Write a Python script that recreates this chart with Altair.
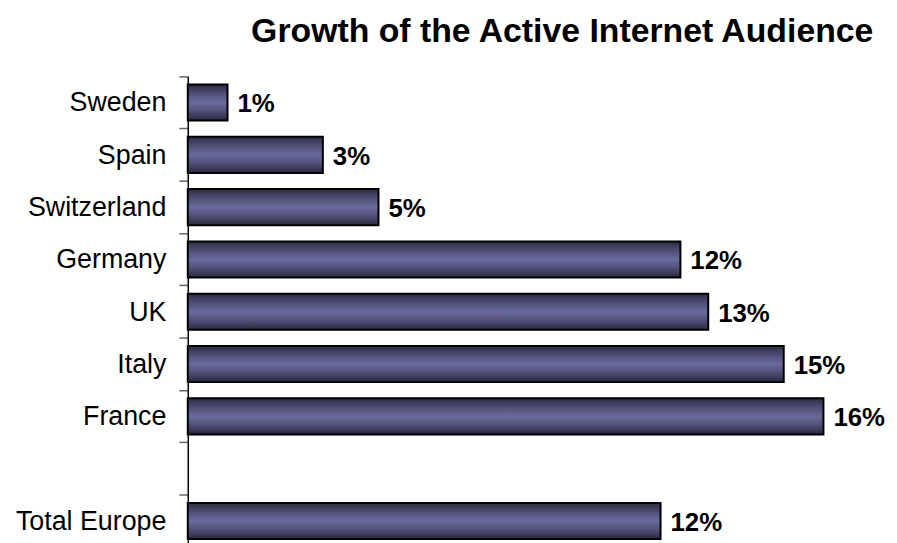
import altair as alt
import pandas as pd

categories = ["Sweden", "Spain", "Switzerland", "Germany", "UK", "Italy", "France", " ", "Total Europe"]
values = [0.010, 0.034, 0.048, 0.124, 0.131, 0.150, 0.160, None, 0.119]
title_text = "Growth of the Active Internet Audience"

df = pd.DataFrame({"country": categories, "growth": values})
bars_df = df.dropna()

FONT = "Liberation Sans"

y_scale = alt.Scale(domain=categories, paddingInner=0, paddingOuter=0)
x_scale = alt.Scale(domain=[0, 0.17], nice=False, zero=True)

y_enc = alt.Y(
    "country:N",
    sort=categories,
    scale=y_scale,
    axis=alt.Axis(
        title=None,
        bandPosition=0,
        labelFont=FONT,
        labelFontSize=27,
        labelColor="black",
        labelPadding=13,
        labelBaseline="alphabetic",
        labelOffset=9,
        tickSize=9,
        tickColor="#666666",
        tickWidth=1.5,
        domainColor="black",
        domainWidth=1.5,
        grid=False,
    ),
)

x_enc = alt.X("growth:Q", scale=x_scale, axis=None)

gradient = alt.Gradient(
    gradient="linear",
    x1=0, x2=0, y1=0, y2=1,
    stops=[
        alt.GradientStop(offset=0, color="#2c2c45"),
        alt.GradientStop(offset=0.3, color="#55557f"),
        alt.GradientStop(offset=0.5, color="#6a6a9d"),
        alt.GradientStop(offset=0.7, color="#55557f"),
        alt.GradientStop(offset=1, color="#28283e"),
    ],
)

bars = alt.Chart(bars_df).mark_bar(
    color=gradient,
    stroke="black",
    strokeWidth=2,
    height={"band": 0.69},
).encode(y=y_enc, x=x_enc)

labels = alt.Chart(bars_df).mark_text(
    align="left",
    baseline="alphabetic",
    dx=10,
    dy=10,
    font=FONT,
    fontSize=26,
    fontWeight="bold",
    color="black",
).encode(
    y=alt.Y("country:N", sort=categories, scale=y_scale),
    x=alt.X("growth:Q", scale=x_scale),
    text=alt.Text("growth:Q", format=".0%"),
)

chart = alt.layer(bars, labels).properties(
    width=680,
    height=474,
    autosize=alt.AutoSizeParams(type="none"),
    padding={"left": 181, "top": 67, "right": 26, "bottom": 0},
    title=alt.TitleParams(
        text=title_text,
        font=FONT,
        fontSize=34,
        fontWeight="bold",
        color="black",
        anchor="middle",
        dx=37,
        offset=27,
    ),
).configure_view(stroke=None)

chart.save("out.html", embed_options={"renderer": "svg", "actions": False})
